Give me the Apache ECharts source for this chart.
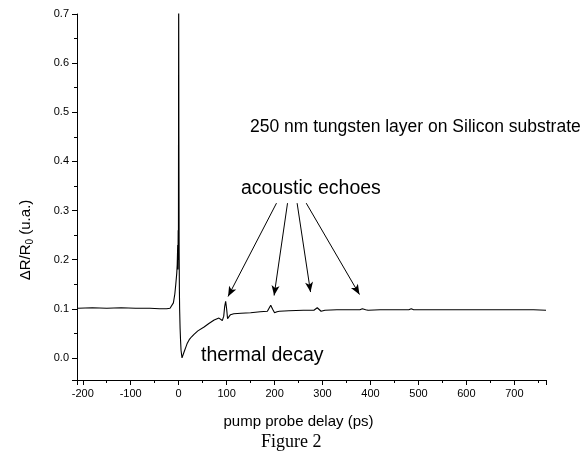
<!DOCTYPE html>
<html>
<head>
<meta charset="utf-8">
<script src="https://cdn.jsdelivr.net/npm/echarts@6/dist/echarts.min.js"></script>
<style>
  html, body { margin: 0; padding: 0; background: #fff; }
  #main { width: 587px; height: 457px; }
</style>
</head>
<body>
<div id="main"></div>
<script>
// pump probe delay (ps) and reflectivity change
var delay = [-210, -180, -150, -120, -90, -60, -40, -25, -18, -14, -11, -8, -6, -4, -3, -2, -1.5, -1, -0.5, 0,
  0.5, 1, 1.5, 2, 3, 4, 5, 7, 9, 12, 15, 18, 22, 27, 32, 40, 53, 63, 74, 84,
  88, 91, 94, 96, 98, 100, 102, 104, 106, 108, 115, 130, 150, 170, 185, 188, 192, 196, 200, 205,
  210, 230, 260, 282, 286, 289, 293, 297, 305, 330, 360, 378, 383, 386, 390, 395, 420, 450, 480, 485,
  490, 520, 550, 580, 583, 588, 620, 660, 700, 740, 766];
var signal = [0.101, 0.102, 0.101, 0.102, 0.101, 0.101, 0.100, 0.100, 0.101, 0.104, 0.112, 0.130, 0.150, 0.172, 0.190, 0.230, 0.180, 0.260, 0.200, 0.780,
  0.450, 0.220, 0.140, 0.100, 0.060, 0.035, 0.015, 0.000, 0.004, 0.014, 0.022, 0.030, 0.037, 0.043, 0.048, 0.055, 0.063, 0.070, 0.077, 0.081,
  0.079, 0.076, 0.085, 0.105, 0.115, 0.100, 0.080, 0.077, 0.083, 0.088, 0.090, 0.091, 0.092, 0.094, 0.095, 0.096, 0.107, 0.099, 0.092, 0.094,
  0.095, 0.096, 0.097, 0.097, 0.099, 0.102, 0.098, 0.095, 0.097, 0.098, 0.098, 0.098, 0.100, 0.101, 0.098, 0.097, 0.098, 0.098, 0.098, 0.100,
  0.098, 0.098, 0.098, 0.098, 0.100, 0.098, 0.098, 0.098, 0.098, 0.098, 0.097];

// arrows from "acoustic echoes" to the echo peaks, in data units
var arrowFrom = [[204, 0.315], [227, 0.315], [247, 0.315], [266, 0.315]];
var arrowTo = [[103, 0.125], [199, 0.127], [275, 0.134], [377, 0.129]];

var chart = echarts.init(document.getElementById('main'));

var points = delay.map(function (d, i) { return [d, signal[i]]; });
var arrows = arrowFrom.map(function (p, i) {
  return [{ coord: p }, { coord: arrowTo[i] }];
});

var font = 'Liberation Sans, Arial, Helvetica, sans-serif';

var option = {
  backgroundColor: '#fff',
  animation: false,
  grid: { left: 77, right: 41, top: 14, bottom: 77 },
  xAxis: {
    type: 'value',
    min: -212,
    max: 766,
    splitNumber: 10,
    name: 'pump probe delay (ps)',
    nameLocation: 'middle',
    nameGap: 34,
    nameTextStyle: { fontFamily: font, fontSize: 15, color: '#000', padding: [0, 26, 0, 0] },
    axisLine: { onZero: false, lineStyle: { color: '#000', width: 1 } },
    axisTick: { length: 5, lineStyle: { color: '#000' } },
    minorTick: { show: true, splitNumber: 2, length: 3, lineStyle: { color: '#000' } },
    axisLabel: { fontFamily: font, fontSize: 11, color: '#000', margin: 8, showMinLabel: false, showMaxLabel: false },
    splitLine: { show: false }
  },
  yAxis: {
    type: 'value',
    min: -0.045,
    max: 0.7,
    splitNumber: 7,
    name: '{a|ΔR/R}{s|0}{a| (u.a.)}',
    nameLocation: 'middle',
    nameGap: 42,
    nameTextStyle: {
      color: '#000',
      padding: [0, 86, 0, 0],
      rich: {
        a: { fontFamily: font, fontSize: 15, color: '#000', lineHeight: 18 },
        s: { fontFamily: font, fontSize: 10, color: '#000', lineHeight: 18, padding: [8, 0, 0, 0] }
      }
    },
    axisLine: { show: true, onZero: false, lineStyle: { color: '#000', width: 1 } },
    axisTick: { show: true, length: 5, lineStyle: { color: '#000' } },
    minorTick: { show: true, splitNumber: 2, length: 3, lineStyle: { color: '#000' } },
    axisLabel: {
      fontFamily: font, fontSize: 11, color: '#000', margin: 8, showMinLabel: false,
      formatter: function (v) { return v.toFixed(1); }
    },
    splitLine: { show: false }
  },
  series: [{
    type: 'line',
    data: points,
    showSymbol: false,
    clip: true,
    lineStyle: { color: '#000', width: 1.1 },
    markLine: {
      silent: true,
      symbol: ['none', 'arrow'],
      symbolSize: [6, 10],
      label: { show: false },
      lineStyle: { color: '#000', width: 1, type: 'solid' },
      data: arrows
    }
  }],
  graphic: [
    { type: 'text', left: 250, top: 118, style: { text: '250 nm tungsten layer on Silicon substrate', font: '17.5px ' + font, fill: '#000' } },
    { type: 'text', left: 241, top: 179, style: { text: 'acoustic echoes', font: '19.5px ' + font, fill: '#000' } },
    { type: 'text', left: 201, top: 346, style: { text: 'thermal decay', font: '19.5px ' + font, fill: '#000' } },
    { type: 'text', left: 261, top: 433, style: { text: 'Figure 2', font: '18px Liberation Serif, Times New Roman, serif', fill: '#000' } }
  ]
};
chart.setOption(option);
</script>
</body>
</html>
